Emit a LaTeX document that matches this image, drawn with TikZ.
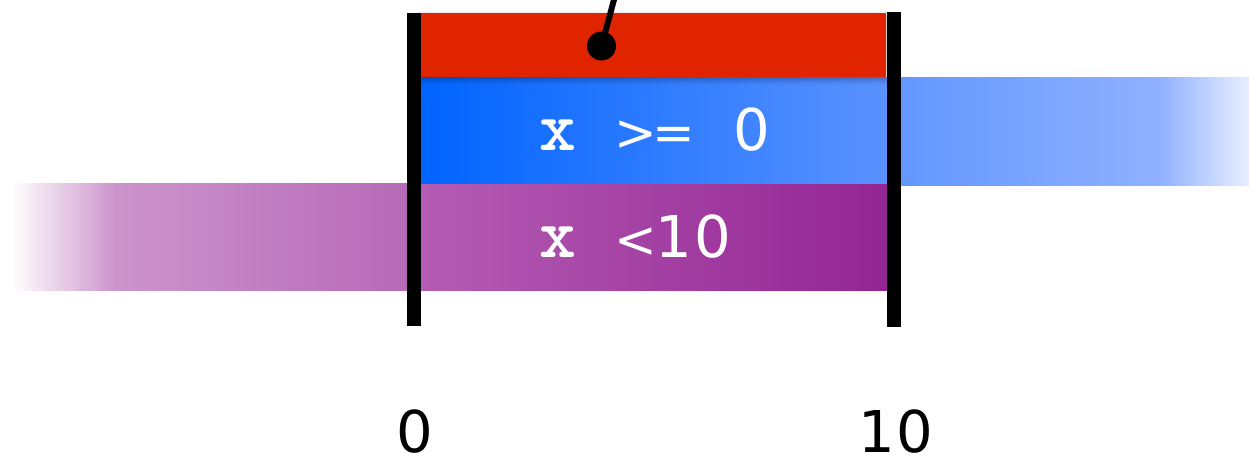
\documentclass[tikz,border=0pt]{standalone}
\usepackage{fontspec}
\usetikzlibrary{shadows.blur}
\newfontfamily\codefont{DejaVu Sans}
\newcommand{\pitch}[1]{\makebox[22pt]{#1}}
\newcommand{\xvar}{{\fontsize{40}{44}\ttfamily\bfseries x}}
\newcommand{\rel}[1]{{\fontsize{29}{32}\selectfont #1}}
\definecolor{guardred}{HTML}{E02400}
\definecolor{lowblue}{HTML}{0064FF}
\definecolor{midblue}{HTML}{5A92FF}
\definecolor{extblue}{HTML}{6397FF}
\definecolor{paleblue}{HTML}{90B1FF}
\definecolor{fadeblue}{HTML}{E8EEFF}
\definecolor{palepurple}{HTML}{CC94CC}
\definecolor{extpurple}{HTML}{B76AB7}
\definecolor{lowpurple}{HTML}{B45CB4}
\definecolor{highpurple}{HTML}{932593}

\begin{document}
\begin{tikzpicture}[x=0.02cm, y=-0.02cm,
    cond/.style={text=white, anchor=base west, inner sep=0pt,
                 font=\fontsize{32.8}{36}\codefont},
    bound/.style={anchor=base, inner sep=0pt, text depth=0pt,
                  font=\fontsize{32.8}{36}\codefont},
    pinhead/.style={circle, fill=black, inner sep=0pt, minimum size=0.58cm}]
  \useasboundingbox (0,0) rectangle (1249,457);
  \foreach \xa/\xb/\ya/\yb/\ca/\cb in {420/887/77/185/lowblue/midblue,
                                       900/1161/77/185/extblue/paleblue,
                                       1160/1249/77/185/paleblue/fadeblue,
                                       12/116/183/290/white/palepurple,
                                       115/408/183/290/palepurple/extpurple,
                                       420/887/184/290/lowpurple/highpurple}{%
    \shade[left color=\ca, right color=\cb] (\xa,\ya) rectangle (\xb,\yb);}
  \fill[guardred, blur shadow={shadow xshift=0pt, shadow yshift=-1.5pt,
        shadow blur radius=3pt, shadow opacity=35}] (420,13) rectangle (886,77);
  \fill[black] (407,13) rectangle (420.5,326);
  \fill[black] (887,12) rectangle (900.5,327);
  \node[pinhead] (pin) at (601.5,46) {};
  \coordinate (pintop) at (615,-4);
  \draw[line width=3.4pt] (pin.center) -- (pintop);
  \node[cond] (upper) at (538.5,150)
    {\pitch{\xvar}\pitch{}\pitch{\rel{>}}\pitch{\rel{=}}\pitch{}\pitch{0}};
  \node[cond] (lower) at (538.5,257)
    {\pitch{\xvar}\pitch{}\pitch{\rel{<}}\pitch{1}\pitch{0}};
  \node[bound] (zero) at (415,452) {0};
  \node[bound] (ten) at (896,452) {\pitch{1}\pitch{0}};
\end{tikzpicture}
\end{document}
